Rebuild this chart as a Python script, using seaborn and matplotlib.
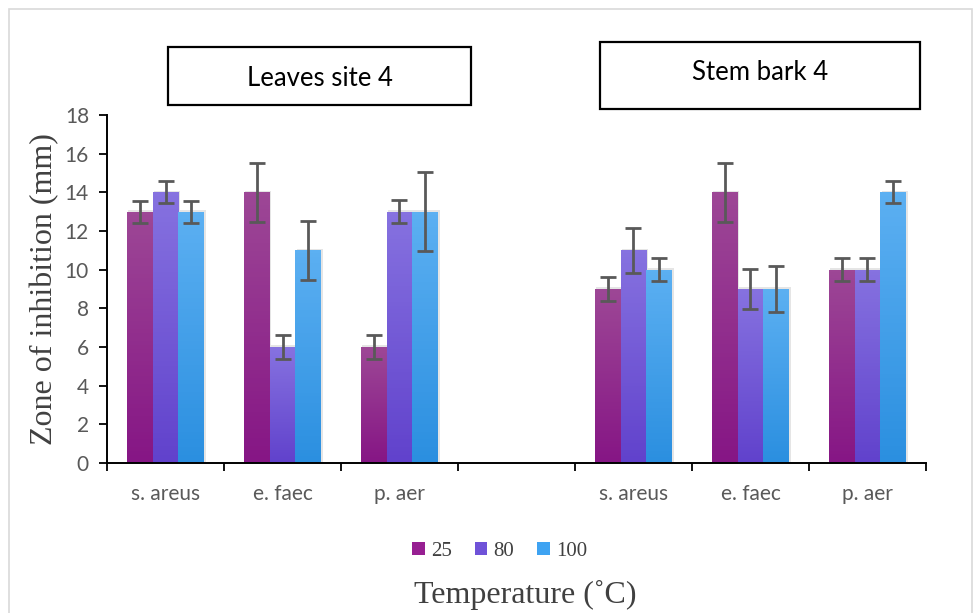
import numpy as np
import pandas as pd
import matplotlib
matplotlib.use("Agg")
import matplotlib.pyplot as plt
from matplotlib.patches import Rectangle
from matplotlib.colors import LinearSegmentedColormap
import seaborn as sns

# ---- data -------------------------------------------------------------
species = ["s. areus", "e. faec", "p. aer"]
temps = ["25", "80", "100"]

leaves_25 = [13, 14, 6]
leaves_80 = [14, 6, 13]
leaves_100 = [13, 11, 13]
leaves_err_25 = [0.57, 1.52, 0.62]
leaves_err_80 = [0.57, 0.62, 0.60]
leaves_err_100 = [0.57, 1.54, 2.03]

stem_25 = [9, 14, 10]
stem_80 = [11, 9, 10]
stem_100 = [10, 9, 14]
stem_err_25 = [0.62, 1.52, 0.59]
stem_err_80 = [1.18, 1.02, 0.59]
stem_err_100 = [0.59, 1.18, 0.57]

panel_titles = ["Leaves site 4", "Stem bark 4"]

# ---- long table ---------------------------------------------------------
rows = []
groups = [
    ("L", [leaves_25, leaves_80, leaves_100], [leaves_err_25, leaves_err_80, leaves_err_100]),
    ("S", [stem_25, stem_80, stem_100], [stem_err_25, stem_err_80, stem_err_100]),
]
for prefix, vals, errs in groups:
    for t, v_list, e_list in zip(temps, vals, errs):
        for sp, v, e in zip(species, v_list, e_list):
            rows.append({"slot": f"{prefix}:{sp}", "temp": t, "value": v, "err": e})
df = pd.DataFrame(rows)

order = [f"L:{s}" for s in species] + ["gap"] + [f"S:{s}" for s in species]
tick_labels = species + [""] + species

# gradient colours (bottom, top) and flat legend colours
grad = {
    "25": ("#861685", "#9d4796"),
    "80": ("#6142cc", "#8672e0"),
    "100": ("#2b8fe0", "#5cb0f2"),
}
flat = {"25": "#971f92", "80": "#6f52d8", "100": "#3ea3f2"}

# ---- figure ------------------------------------------------------------
sns.set_style("white")
fig = plt.figure(figsize=(9.74, 6.13), dpi=100)
ax = fig.add_axes([107 / 974, 1 - 463 / 613, 819 / 974, 348 / 613])

sns.barplot(data=df, x="slot", y="value", hue="temp", order=order,
            hue_order=temps, palette=flat, errorbar=None, width=0.66,
            gap=0.0, ax=ax, legend=False, linewidth=0, saturation=1)

# gradient fill + soft shadow + error bars
err_lookup = {(r.slot, r.temp): r.err for r in df.itertuples()}
for t, cont in zip(temps, ax.containers):
    cmap = LinearSegmentedColormap.from_list(t, [grad[t][0], grad[t][1]])
    for bar in cont:
        h = bar.get_height()
        if not np.isfinite(h) or h <= 0:
            continue
        x0, w = bar.get_x(), bar.get_width()
        xc = x0 + w / 2
        slot = order[int(round(xc))]
        # shadow
        sh = Rectangle((x0 + 0.012, 0), w, h + 0.08, facecolor="#000000",
                       alpha=0.10, zorder=1.5, linewidth=0)
        ax.add_patch(sh)
        img = ax.imshow(np.linspace(0, 1, 64).reshape(-1, 1), cmap=cmap,
                        aspect="auto", origin="lower",
                        extent=[x0, x0 + w, 0, h], zorder=2.5)
        img.set_clip_path(bar)
        bar.set_zorder(2.4)
        ax.errorbar(xc, h, yerr=err_lookup[(slot, t)], fmt="none",
                    ecolor="#595959", elinewidth=2.0, capsize=5.5,
                    capthick=2.0, zorder=4)

ax.set_xlim(-0.5, len(order) - 0.5)
ax.set_ylim(0, 18)
ax.set_yticks(np.arange(0, 19, 2))
ax.set_xticks(range(len(order)))
ax.set_xticklabels(tick_labels)
ax.set_xticks(np.arange(-0.5, len(order), 1.0), minor=True)

lab_font = "Lato"
ax.tick_params(axis="x", which="major", length=0, pad=15, labelsize=15,
               labelcolor="#595959")
ax.tick_params(axis="x", which="minor", length=6, width=1.3, color="black",
               direction="out", bottom=True)
ax.tick_params(axis="y", length=6, width=1.3, color="black", direction="out",
               left=True, labelsize=15, labelcolor="#595959", pad=7)
for lab in ax.get_xticklabels() + ax.get_yticklabels():
    lab.set_fontfamily(lab_font)

for side in ["top", "right"]:
    ax.spines[side].set_visible(False)
for side in ["left", "bottom"]:
    ax.spines[side].set_color("black")
    ax.spines[side].set_linewidth(1.4)

ax.set_xlabel("")
ax.set_ylabel("Zone of inhibition (mm)", fontfamily="Liberation Serif",
              fontsize=23, color="#404040", labelpad=4)

# legend
handles = [Rectangle((0, 0), 1, 1, facecolor=flat[t], edgecolor="none") for t in temps]
leg = fig.legend(handles, temps, loc="center", bbox_to_anchor=(0.513, 1 - 551 / 613),
                 ncol=3, frameon=False, handlelength=0.6, handleheight=0.6,
                 handletextpad=0.3, columnspacing=1.1,
                 prop={"family": "Liberation Serif", "size": 15})
for txt in leg.get_texts():
    txt.set_color("#404040")

fig.text(0.539, 1 - 595 / 613, "Temperature (\u02daC)", ha="center", va="center",
         fontfamily="Liberation Serif", fontsize=23, color="#404040")

# panel title boxes
boxes = [(168, 47, 471, 105, 78), (600, 42, 920, 109, 73)]
for title, (bx0, by0, bx1, by1, ty) in zip(panel_titles, boxes):
    fig.patches.append(Rectangle((bx0 / 974, 1 - by1 / 613), (bx1 - bx0) / 974,
                                 (by1 - by0) / 613, transform=fig.transFigure,
                                 fill=False, edgecolor="black", linewidth=1.6))
    fig.text((bx0 + bx1) / 2 / 974, 1 - ty / 613, title, ha="center", va="center",
             fontfamily=lab_font, fontsize=18.5, color="black")

# outer chart border
fig.patches.append(Rectangle((9 / 974, -0.05), 963 / 974, 1 - 9 / 613 + 0.05,
                             transform=fig.transFigure, fill=False,
                             edgecolor="#d9d9d9", linewidth=1.2))

fig.savefig("out.png", dpi=100)
